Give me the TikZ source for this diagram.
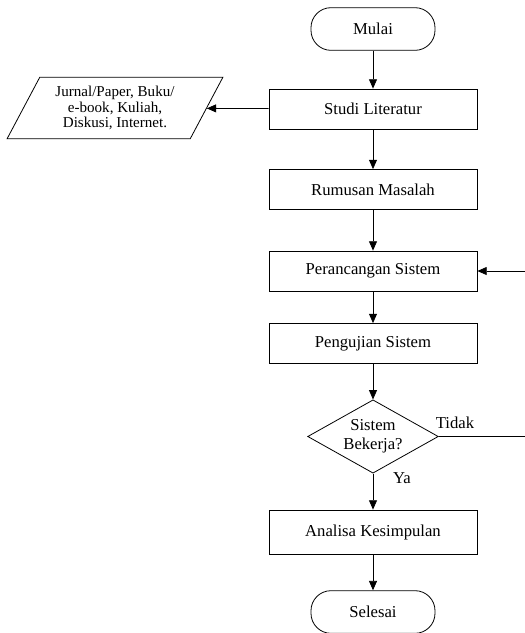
\documentclass[tikz,border=0pt]{standalone}
\usepackage{fontspec}
\setmainfont{Liberation Serif}
\usetikzlibrary{shapes.geometric,arrows.meta}

\begin{document}
\begin{tikzpicture}[x=0.75pt, y=-0.75pt,
  every node/.style={font=\fontsize{12.5}{14}\selectfont},
  terminal/.style={draw, line width=0.6pt, rounded corners=15pt, minimum width=93pt, minimum height=32pt},
  proses/.style={draw, line width=0.6pt, minimum width=156pt, minimum height=30pt},
  keputusan/.style={draw, line width=0.6pt, diamond, aspect=1.8, inner sep=0pt, minimum width=98pt, minimum height=55pt, align=center},
  masukan/.style={draw, line width=0.6pt, trapezium, trapezium left angle=62, trapezium right angle=118,
    trapezium stretches=true, minimum width=162pt, minimum height=46pt, align=center,
    font=\fontsize{11.3}{11.4}\selectfont},
  panah/.style={line width=0.6pt, -{Triangle[length=7pt,width=6pt]}}]
% Set the page size (the loop back runs off the right edge)
\useasboundingbox (0,0) rectangle (525,633);
\clip (0,0) rectangle (525,633);

% Draw the flow chart steps
\node[terminal] (mulai) at (373,29) {Mulai};
\node[proses] (studi) at (373,109) {Studi Literatur};
\node[masukan] (sumber) at (115,108) {Jurnal/Paper, Buku/\\e-book, Kuliah,\\Diskusi, Internet.};
\node[proses] (rumusan) at (373,189.5) {Rumusan Masalah};
\node[proses] (rancang) at (373,271) {Perancangan Sistem};
\node[proses] (uji) at (373,343.5) {Pengujian Sistem};
\node[keputusan] (cek) at (373,436.5) {Sistem\\Bekerja?};
\node[proses, minimum height=33pt] (analisa) at (373,532) {Analisa Kesimpulan};
\node[terminal] (selesai) at (373,612) {Selesai};
\coordinate (balik) at (545,271);

% Labels of the decision
\node (tidak) at (455,423) {Tidak};
\node (ya) at (402,478) {Ya};

% Draw the arrows
\draw[panah] (mulai) -- (studi);
\draw[panah] (studi) -- (sumber);
\draw[panah] (studi) -- (rumusan);
\draw[panah] (rumusan) -- (rancang);
\draw[panah] (rancang) -- (uji);
\draw[panah] (uji) -- (cek);
\draw[panah] (cek) -- (analisa);
\draw[panah] (analisa) -- (selesai);
\draw[panah] (cek.east) -| (balik) -- (rancang.east);
\end{tikzpicture}
\end{document}
